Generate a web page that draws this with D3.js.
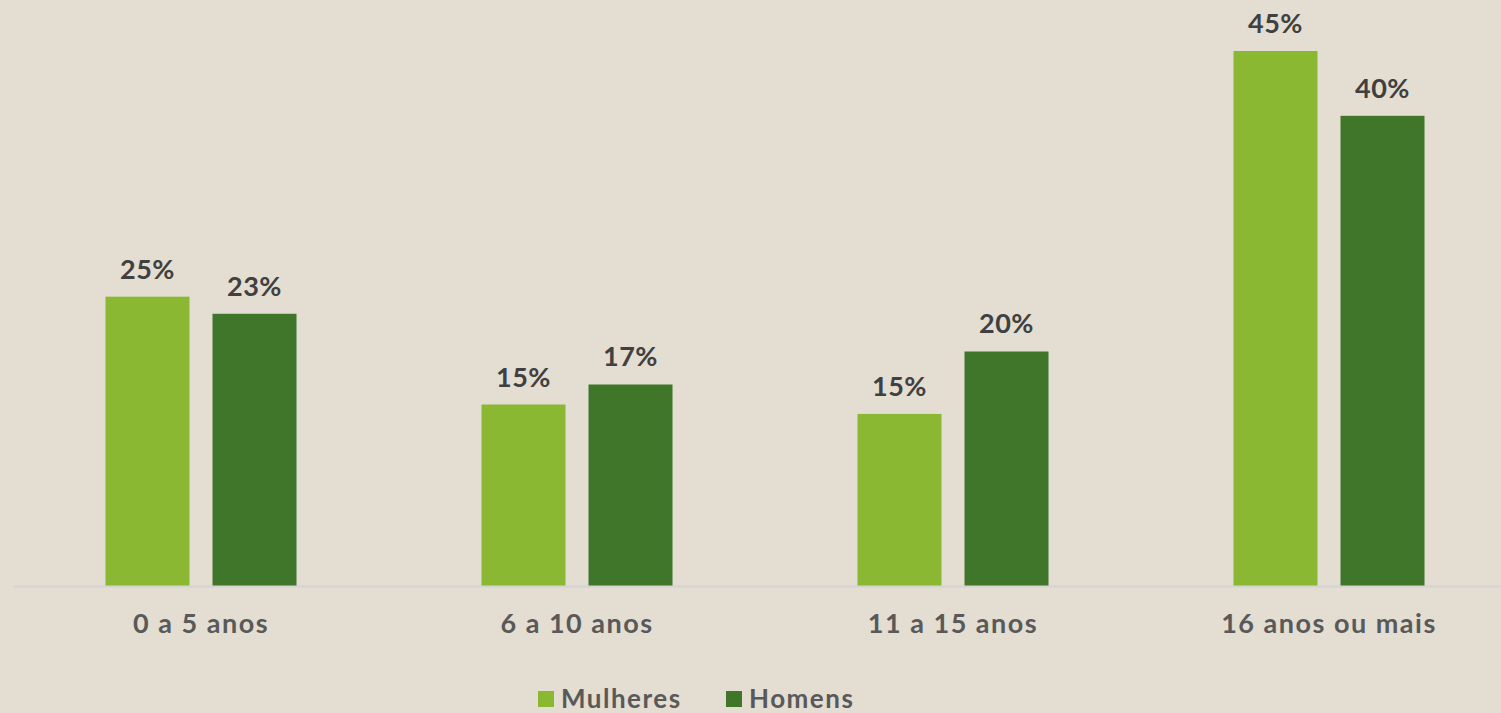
<!DOCTYPE html>
<html>
<head>
<meta charset="utf-8">
<script src="https://cdn.jsdelivr.net/npm/d3@7"></script>
<style>
  html, body { margin: 0; padding: 0; background: #e3ddd2; }
  svg { display: block; }
  text { font-family: "Century Gothic", "Lato", sans-serif; font-weight: bold; }
</style>
</head>
<body>
<svg width="1501" height="713"></svg>
<script>
const categories = ['0 a 5 anos', '6 a 10 anos', '11 a 15 anos', '16 anos ou mais'];
const seriesNames = ['Mulheres', 'Homens'];
const mulheres = [0.2455, 0.154, 0.146, 0.454];
const homens = [0.231, 0.171, 0.199, 0.399];
const colors = ['#8bb833', '#3f7629'];

const width = 1501, height = 713;
const baseline = 586;

const svg = d3.select('svg');

const x0 = d3.scaleBand()
  .domain(categories)
  .range([13, 1517])
  .paddingInner(0.492)
  .paddingOuter(0.246);

const x1 = d3.scaleBand()
  .domain(seriesNames)
  .range([0, x0.bandwidth()])
  .paddingInner(0.215);

const y = d3.scaleLinear()
  .domain([0, 0.454])
  .range([baseline, 51]);

const fmt = d3.format('.0%');

const rows = categories.map((c, i) => ({
  category: c,
  values: [
    { key: 'Mulheres', value: mulheres[i] },
    { key: 'Homens', value: homens[i] }
  ]
}));

const groups = svg.selectAll('.group')
  .data(rows)
  .enter()
  .append('g')
  .attr('class', 'group')
  .attr('transform', d => `translate(${x0(d.category)},0)`);

groups.selectAll('rect')
  .data(d => d.values)
  .enter()
  .append('rect')
  .attr('x', d => x1(d.key))
  .attr('y', d => y(d.value))
  .attr('width', x1.bandwidth())
  .attr('height', d => baseline - y(d.value))
  .attr('fill', (d, i) => colors[i]);

groups.selectAll('.label')
  .data(d => d.values)
  .enter()
  .append('text')
  .attr('class', 'label')
  .attr('x', d => x1(d.key) + x1.bandwidth() / 2)
  .attr('y', d => y(d.value) - 18)
  .attr('text-anchor', 'middle')
  .attr('font-size', 27)
  .attr('letter-spacing', 0.5)
  .attr('fill', '#404040')
  .text(d => fmt(d.value));

// axis line
svg.append('line')
  .attr('x1', 13)
  .attr('x2', width)
  .attr('y1', baseline + 0.5)
  .attr('y2', baseline + 0.5)
  .attr('stroke', '#d6d4d0')
  .attr('stroke-width', 2);

// category labels
const xAxis = d3.axisBottom(x0).tickSize(0).tickPadding(0);
const axisG = svg.append('g')
  .attr('transform', `translate(0,${baseline})`)
  .call(xAxis);
axisG.select('.domain').remove();
axisG.selectAll('text')
  .attr('dy', null)
  .attr('y', 47)
  .attr('font-size', 27)
  .attr('letter-spacing', 1.5)
  .attr('font-family', null)
  .attr('fill', '#595959');

// legend
const legendX = [538, 726];
const legend = svg.selectAll('.legend')
  .data(seriesNames)
  .enter()
  .append('g')
  .attr('class', 'legend')
  .attr('transform', (d, i) => `translate(${legendX[i]},691)`);

legend.append('rect')
  .attr('width', 16)
  .attr('height', 16)
  .attr('fill', (d, i) => colors[i]);

legend.append('text')
  .attr('x', 23)
  .attr('y', 17)
  .attr('font-size', 26)
  .attr('letter-spacing', 1.5)
  .attr('fill', '#595959')
  .text(d => d);
</script>
</body>
</html>
